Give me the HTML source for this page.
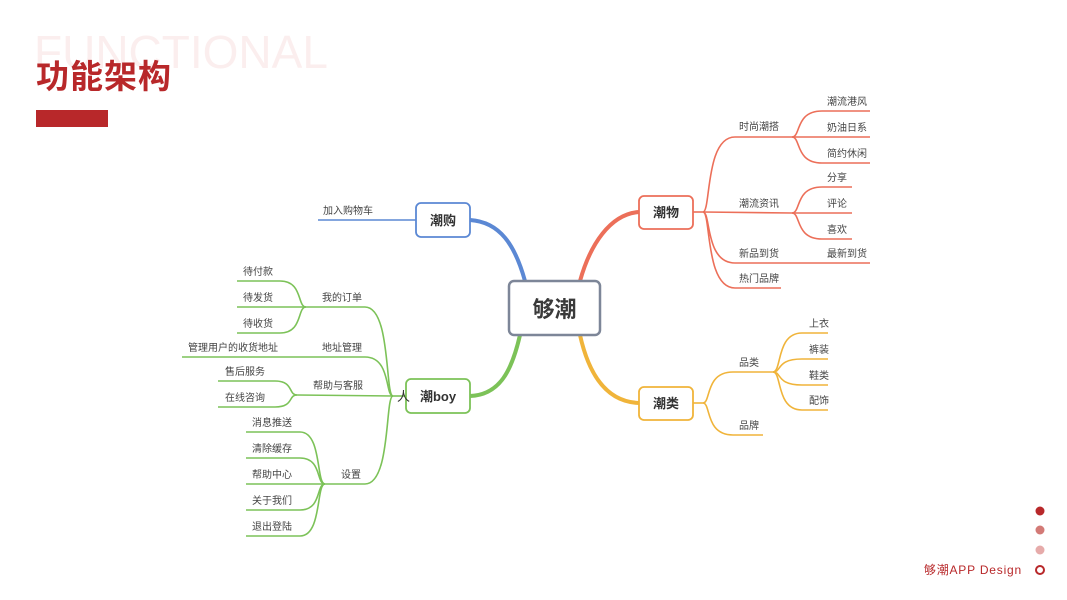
<!DOCTYPE html>
<html><head><meta charset="utf-8"><style>
html,body{margin:0;padding:0;background:#fff;}
body{width:1067px;height:600px;overflow:hidden;position:relative;font-family:"Liberation Sans","Noto Sans CJK SC",sans-serif;}
</style></head><body>
<svg width="1067" height="600" viewBox="0 0 1067 600" xmlns="http://www.w3.org/2000/svg" style="position:absolute;left:0;top:0">
<text x="34" y="68" font-family="Liberation Sans, sans-serif" font-size="46" fill="#fbeeee">FUNCTIONAL</text>
<text x="36" y="88" font-family="Liberation Sans, Noto Sans CJK SC, sans-serif" font-size="33" font-weight="bold" fill="#b8282a" letter-spacing="1">功能架构</text>
<rect x="36" y="110" width="72" height="17" fill="#b8282a"/>

<g fill="none" stroke-linecap="round">
<path d="M525,281 C515,245 500,222 470,220" stroke="#5b88d4" stroke-width="4"/>
<path d="M580,281 C590,245 610,214 639,212" stroke="#ec6f59" stroke-width="4"/>
<path d="M580,335 C590,380 610,402 639,403" stroke="#f0b43a" stroke-width="4"/>
<path d="M520,335 C512,370 500,395 470,396" stroke="#7cc258" stroke-width="4"/>
</g>
<g fill="none" stroke-width="1.6">
<path d="M416,220 L318,220" stroke="#5b88d4"/>
<g stroke="#ec6f59">
<path d="M693,212 L703,212"/>
<path d="M703,212 C711,212 705,137 735,137 L792,137"/>
<path d="M703,212 L792,213"/>
<path d="M703,212 C711,212 705,263 735,263 L870,263"/>
<path d="M703,212 C711,212 705,288 735,288 L781,288"/>
<path d="M792,137 C801,137 795,111 822,111 L870,111"/>
<path d="M792,137 L870,137"/>
<path d="M792,137 C801,137 795,163 822,163 L870,163"/>
<path d="M792,213 C801,213 795,187 822,187 L852,187"/>
<path d="M792,213 L852,213"/>
<path d="M792,213 C801,213 795,239 822,239 L852,239"/>
</g>
<g stroke="#f0b43a">
<path d="M693,403 L703,403"/>
<path d="M703,403 C711,403 705,372 733,372 L773,372"/>
<path d="M703,403 C711,403 705,435 733,435 L763,435"/>
<path d="M773,372 C782,372 776,333 802,333 L828,333"/>
<path d="M773,372 C782,372 776,359 802,359 L828,359"/>
<path d="M773,372 C782,372 776,385 802,385 L828,385"/>
<path d="M773,372 C782,372 776,410 802,410 L828,410"/>
</g>
<g stroke="#7cc258">
<path d="M406,396 L393,396"/>
<path d="M393,396 C385,396 391,307 365,307 L306,307"/>
<path d="M393,396 C385,396 391,357 365,357 L182,357"/>
<path d="M393,396 L297,395"/>
<path d="M393,396 C385,396 391,484 365,484 L325,484"/>
<path d="M306,307 C297,307 303,281 280,281 L237,281"/>
<path d="M306,307 L237,307"/>
<path d="M306,307 C297,307 303,333 280,333 L237,333"/>
<path d="M297,395 C288,395 294,381 275,381 L218,381"/>
<path d="M297,395 C288,395 294,407 275,407 L218,407"/>
<path d="M325,484 C316,484 322,432 300,432 L246,432"/>
<path d="M325,484 C316,484 322,458 300,458 L246,458"/>
<path d="M325,484 L246,484"/>
<path d="M325,484 C316,484 322,510 300,510 L246,510"/>
<path d="M325,484 C316,484 322,536 300,536 L246,536"/>
</g>
</g>

<rect x="509" y="281" width="91" height="54" rx="5" fill="#fff" stroke="#7d8698" stroke-width="2.5"/>
<text x="554.5" y="317" text-anchor="middle" font-size="22" font-weight="bold" fill="#3a3a3a">够潮</text>
<rect x="416" y="203" width="54" height="34" rx="5" fill="#fff" stroke="#5b88d4" stroke-width="1.8"/>
<text x="443" y="225" text-anchor="middle" font-size="13" font-weight="bold" fill="#333">潮购</text>
<rect x="639" y="196" width="54" height="33" rx="5" fill="#fff" stroke="#ec6f59" stroke-width="1.8"/>
<text x="666" y="217" text-anchor="middle" font-size="13" font-weight="bold" fill="#333">潮物</text>
<rect x="639" y="387" width="54" height="33" rx="5" fill="#fff" stroke="#f0b43a" stroke-width="1.8"/>
<text x="666" y="408" text-anchor="middle" font-size="13" font-weight="bold" fill="#333">潮类</text>
<rect x="406" y="379" width="64" height="34" rx="5" fill="#fff" stroke="#7cc258" stroke-width="1.8"/>
<text x="438" y="401" text-anchor="middle" font-size="13" font-weight="bold" fill="#333">潮boy</text>
<text x="397" y="401" font-size="13" fill="#333">人</text>

<g font-size="10" fill="#444">
<text x="323" y="214">加入购物车</text>
<text x="739" y="130">时尚潮搭</text>
<text x="739" y="207">潮流资讯</text>
<text x="739" y="257">新品到货</text>
<text x="739" y="282">热门品牌</text>
<text x="827" y="105">潮流港风</text>
<text x="827" y="131">奶油日系</text>
<text x="827" y="157">简约休闲</text>
<text x="827" y="181">分享</text>
<text x="827" y="207">评论</text>
<text x="827" y="233">喜欢</text>
<text x="827" y="257">最新到货</text>
<text x="739" y="366">品类</text>
<text x="739" y="429">品牌</text>
<text x="809" y="327">上衣</text>
<text x="809" y="353">裤装</text>
<text x="809" y="379">鞋类</text>
<text x="809" y="404">配饰</text>
<text x="322" y="301">我的订单</text>
<text x="322" y="351">地址管理</text>
<text x="313" y="389">帮助与客服</text>
<text x="341" y="478">设置</text>
<text x="243" y="275">待付款</text>
<text x="243" y="301">待发货</text>
<text x="243" y="327">待收货</text>
<text x="188" y="351">管理用户的收货地址</text>
<text x="225" y="375">售后服务</text>
<text x="225" y="401">在线咨询</text>
<text x="252" y="426">消息推送</text>
<text x="252" y="452">清除缓存</text>
<text x="252" y="478">帮助中心</text>
<text x="252" y="504">关于我们</text>
<text x="252" y="530">退出登陆</text>
</g>

<circle cx="1040" cy="511" r="4.5" fill="#b8282a"/>
<circle cx="1040" cy="530" r="4.5" fill="#d37a76"/>
<circle cx="1040" cy="550" r="4.5" fill="#e6abaa"/>
<circle cx="1040" cy="570" r="4" fill="none" stroke="#b8282a" stroke-width="2"/>
<text x="1022" y="574" text-anchor="end" font-size="12" fill="#b8282a" letter-spacing="0.8">够潮APP Design</text>
</svg>
</body></html>
